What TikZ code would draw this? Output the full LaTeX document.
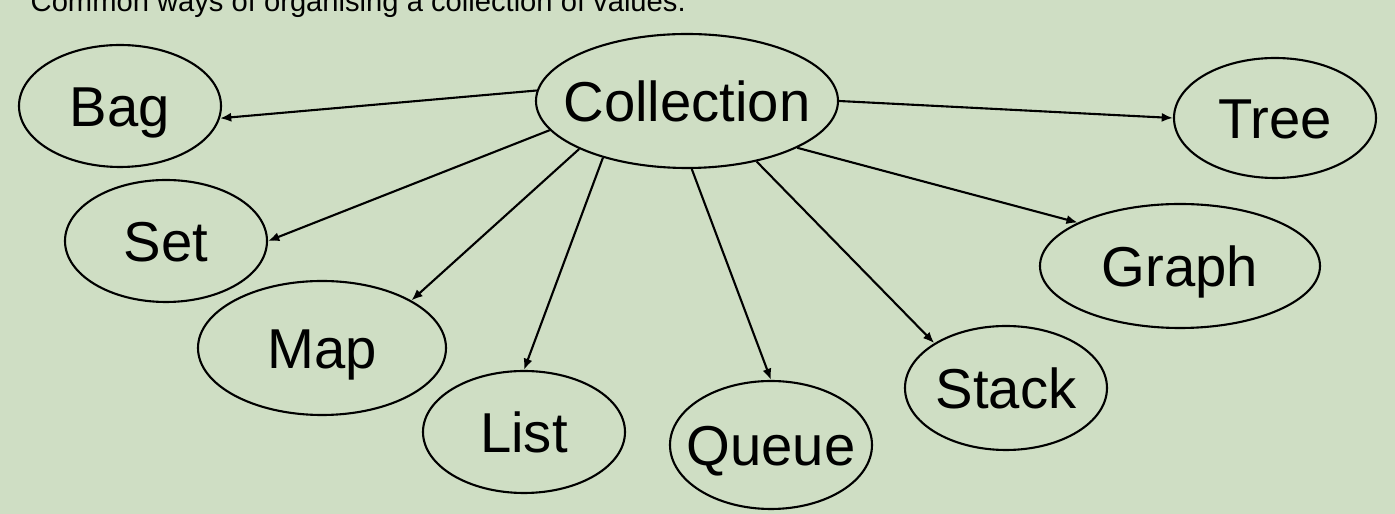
\documentclass[tikz,border=0pt]{standalone}
\usepackage{fontspec}
\setmainfont{Liberation Sans}
\usetikzlibrary{shapes.geometric,arrows.meta}

\definecolor{sage}{RGB}{207,222,196}

\tikzset{
    blob/.style={
        ellipse, draw, line width=0.6pt,
        inner sep=0pt, inner xsep=-3cm,
        text height=11.4pt, text depth=0pt,
        font=\fontsize{16}{19}\selectfont
    },
    link/.style={line width=0.6pt, -{Latex[length=3.2pt,width=2.6pt]}}
}

\begin{document}
\begin{tikzpicture}[x=0.1mm,y=-0.1mm]
    \useasboundingbox (0,0) rectangle (1395,514);
    \fill[sage] (0,0) rectangle (1395,514);
    \clip (0,0) rectangle (1395,514);

    \node[anchor=base west,inner sep=0pt,font=\fontsize{8.3}{10}\selectfont] (title) at (30,12)
        {Common ways of organising a collection of values.};

    \node[blob,minimum width=30.2mm,minimum height=13.4mm] (coll) at (687,101) {Collection};
    \node[blob,minimum width=20.2mm,minimum height=12.2mm] (bag) at (120,106) {Bag};
    \node[blob,minimum width=20.2mm,minimum height=12.0mm] (tree) at (1275,118) {Tree};
    \node[blob,minimum width=20.2mm,minimum height=12.2mm] (set) at (166,241) {Set};
    \node[blob,minimum width=28.0mm,minimum height=12.4mm] (graph) at (1180,266) {Graph};
    \node[blob,minimum width=24.8mm,minimum height=13.4mm] (map) at (322,348) {Map};
    \node[blob,minimum width=20.2mm,minimum height=12.4mm] (stack) at (1006,388) {Stack};
    \node[blob,minimum width=20.2mm,minimum height=12.2mm] (list) at (524,432) {List};
    \node[blob,minimum width=20.2mm,minimum height=12.8mm] (queue) at (771,445) {Queue};

    \draw[link] (coll.176) -- (bag.-7);
    \draw[link] (coll.192) -- (set.east);
    \draw[link] (coll.204) -- (map.28);
    \draw[link] (coll.214) -- (list.north);
    \draw[link] (coll.274) -- (queue.north);
    \draw[link] (coll.319) -- (stack.148);
    \draw[link] (coll.337) -- (graph.157);
    \draw[link] (coll.east) -- (tree.west);
\end{tikzpicture}
\end{document}
